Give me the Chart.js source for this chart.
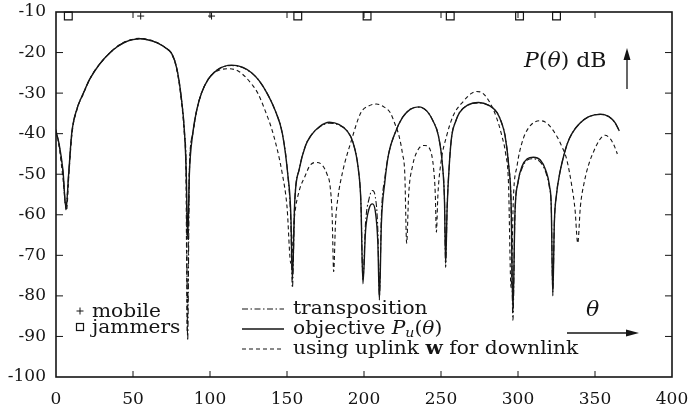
<!DOCTYPE html>
<html><head><meta charset="utf-8">
<script src="https://cdn.jsdelivr.net/npm/chart.js@4.4.1/dist/chart.umd.min.js"></script>
<style>html,body{margin:0;padding:0;background:#fff}#wrap{width:688px;height:413px}</style>
</head><body><div id="wrap"><canvas id="c" width="688" height="413"></canvas></div>
<script>
// ---- data (theta in degrees, power in dB) ----
const thetaObjective = [
  0, 2, 4.5, 6.5, 8.2, 10.2, 13.5, 17.8, 22, 28,
  35.2, 40, 45, 50, 55, 60, 65.7, 71, 75.5, 78.5,
  81, 83.5, 84.6, 85.5, 86.6, 88.8, 91.5, 94.5, 99, 105,
  114, 121, 127, 132, 137, 142, 147, 150.5, 152.5, 153.5,
  155, 158, 162, 165.5, 171, 177.5, 184, 189, 192.7, 196.3,
  198, 199.3, 201, 203.3, 205.5, 207.3, 209, 210, 211.3, 213.5,
  216, 220, 225, 230, 235.5, 241, 245, 248.3, 251, 252.3,
  253, 254, 255.5, 257, 259.5, 262, 267, 274.4, 281, 286.4,
  289.5, 291.6, 294, 295.5, 296.7, 298, 300, 302.7, 306, 310,
  314.5, 318, 320.5, 321.6, 322.6, 323.6, 325, 327, 329, 332,
  335, 340, 346, 353.8, 359, 363, 365.8];
const dbObjective = [
  -39.5, -42.5, -49, -58.5, -50, -40, -34, -30, -26.5, -23,
  -20, -18.5, -17.4, -16.8, -16.6, -16.9, -17.6, -18.8, -20.5, -24,
  -30, -40, -50, -66, -50, -40, -34, -30, -26.5, -24.2,
  -23.1, -23.6, -25, -27, -30, -34, -40, -50, -60, -76,
  -57, -48.7, -43, -40.5, -38.3, -37.2, -37.8, -39.3, -42, -48.7,
  -57, -77, -64, -58.5, -57.3, -59, -67, -81, -62, -52,
  -45, -40, -36, -34, -33.4, -34.5, -37, -40.5, -48, -57,
  -72, -58, -47, -40.5, -37, -34.8, -33, -32.3, -33, -34.8,
  -37.5, -40.5, -48, -57, -84, -60, -52, -48, -46.2, -45.8,
  -46.5, -49, -53, -58, -80, -62, -55, -50, -46.5, -42.5,
  -40, -37.5, -35.8, -35.2, -35.8, -37.3, -39.3];

const thetaTransposition = thetaObjective;
const dbTransposition = [
  -39.5, -42.8, -49.5, -58, -50, -40, -34, -30, -26.5, -23,
  -20, -18.5, -17.4, -16.8, -16.6, -16.9, -17.6, -18.8, -20.5, -24,
  -30, -40, -50, -91, -50, -40, -34, -30, -26.5, -24.2,
  -23.2, -23.7, -25, -27, -30, -34, -40, -50, -62, -78,
  -57, -48.7, -43, -40.5, -38.4, -37.4, -37.9, -39.3, -42, -48.7,
  -57, -76, -62, -56, -54, -55.5, -64, -80, -60, -51,
  -45, -40, -36, -34, -33.5, -34.5, -37, -40.5, -48, -57,
  -73, -58, -47, -40.5, -37, -34.8, -33, -32.4, -33, -34.8,
  -37.5, -40.5, -48, -57, -86, -60, -52, -48.5, -46.5, -46.2,
  -47, -49.5, -53.5, -58, -79, -62, -55, -50, -46.5, -42.5,
  -40, -37.5, -35.8, -35.2, -35.8, -37.3, -39.3];

const thetaUplink = [
  0, 2, 4.5, 6.8, 8.4, 10.4, 13.7, 18, 22, 28,
  35.2, 40, 45, 50, 54, 60, 65.5, 71, 75.3, 78.3,
  80.8, 83.3, 84.4, 85.2, 86.5, 88.8, 91.5, 94.5, 99, 105,
  112, 118, 123, 127.5, 131, 136, 141, 147, 150, 152.5,
  155, 158, 161.7, 165, 169.3, 173, 176, 178, 179.3, 180.3,
  181.5, 183, 186, 191.4, 198, 203, 208, 212.5, 217, 220,
  222.7, 225, 226.5, 227.7, 229, 231.5, 235, 239.5, 243, 245.3,
  246.3, 247, 248, 250, 253.7, 258, 264.6, 270, 273, 277,
  282, 286, 289.5, 292, 293.8, 295.5, 297, 299.4, 302.6, 307,
  314.2, 319, 325, 328.5, 331.6, 334.9, 337, 338.8, 340.5, 343,
  346, 349, 353, 356.5, 360, 362.5, 364.5];
const dbUplink = [
  -39, -43, -51, -59, -50, -40, -34, -30, -26.5, -23,
  -20, -18.4, -17.3, -16.7, -16.5, -16.8, -17.5, -18.8, -20.5, -24,
  -30, -40, -50, -89, -50, -40, -34, -30, -26.5, -24.5,
  -24, -24.5, -26, -28, -30, -34.5, -40, -50, -58, -72,
  -60, -54, -50.5, -47.8, -47.1, -47.8, -50, -53, -60, -74,
  -62, -56, -49.6, -42.2, -34.8, -33.2, -32.7, -33.3, -34.8, -37.5,
  -40.5, -45, -50, -67, -55, -48, -44, -42.9, -44, -49,
  -55, -64.3, -55, -47, -40.5, -35.5, -32, -30, -29.6, -30,
  -32.5, -36, -40.5, -45, -52, -78, -56, -47.9, -42.2, -38.5,
  -36.8, -37.5, -40.5, -43.2, -46.3, -52.8, -58.6, -67, -58, -52,
  -47.5, -44.5, -41.5, -40.4, -41.3, -43, -45];

const mobileTheta = [55, 101];
const jammerTheta = [8, 157, 202, 256, 301, 325];
const markerLevel = -11;

const xTickStep = 50, xMin = 0, xMax = 400;
const yTickStep = 10, yMin = -100, yMax = -10;

const legendLabels = ['transposition', 'objective', 'using uplink'];

// ---- build datasets ----
const pts = (xs, ys) => xs.map((x, i) => ({x, y: ys[i]}));
const lvl = xs => xs.map(x => ({x, y: markerLevel}));
const INK = '#151515';
const FONT = '"DejaVu Serif"';

function rich(ctx, x, y, parts, size, sx) {
  ctx.save();
  ctx.translate(x, y);
  ctx.scale(sx, 1);
  ctx.textBaseline = 'middle';
  ctx.textAlign = 'left';
  ctx.fillStyle = INK;
  let cx = 0;
  for (const p of parts) {
    const fs = p.sub ? size * 0.7 : size;
    ctx.font = (p.i ? 'italic ' : '') + (p.b ? 'bold ' : '') + fs + 'px ' + FONT;
    ctx.fillText(p.t, cx, p.sub ? size * 0.28 : 0);
    cx += ctx.measureText(p.t).width;
  }
  ctx.restore();
}

const decor = {
  id: 'decor',
  afterDraw(chart) {
    const {ctx, chartArea: a, scales: {x, y}} = chart;
    ctx.save();
    ctx.strokeStyle = INK;
    ctx.lineWidth = 1.6;
    ctx.strokeRect(a.left, a.top, a.right - a.left, a.bottom - a.top);
    ctx.lineWidth = 1;
    ctx.beginPath();
    y.ticks.forEach(t => {
      if (t.value <= yMin || t.value >= yMax) return;
      const py = y.getPixelForValue(t.value);
      ctx.moveTo(a.left, py); ctx.lineTo(a.left + 7, py);
      ctx.moveTo(a.right, py); ctx.lineTo(a.right - 7, py);
    });
    x.ticks.forEach(t => {
      if (t.value <= xMin || t.value >= xMax) return;
      const px = x.getPixelForValue(t.value);
      ctx.moveTo(px, a.bottom); ctx.lineTo(px, a.bottom - 6);
      ctx.moveTo(px, a.top); ctx.lineTo(px, a.top + 6);
    });
    ctx.stroke();

    // left legend (markers)
    ctx.lineWidth = 1;
    ctx.beginPath();
    ctx.moveTo(76.5, 311); ctx.lineTo(83.5, 311);
    ctx.moveTo(80, 307.5); ctx.lineTo(80, 314.5);
    ctx.stroke();
    ctx.lineWidth = 1.2;
    ctx.strokeRect(76.5, 323.5, 7, 7);
    rich(ctx, 92, 312, [{t: 'mobile'}], 18, 1.12);
    rich(ctx, 92, 328, [{t: 'jammers'}], 18, 1.12);

    // line legend
    const rows = [309, 329, 349];
    const dashes = [[6, 2.5, 1.5, 2.5], [], [4, 3]];
    rows.forEach((ry, i) => {
      ctx.setLineDash(dashes[i]);
      ctx.lineWidth = i === 1 ? 1.4 : 1.1;
      ctx.beginPath(); ctx.moveTo(242, ry); ctx.lineTo(284, ry); ctx.stroke();
    });
    ctx.setLineDash([]);
    rich(ctx, 293, rows[0], [{t: legendLabels[0]}], 18, 1.12);
    rich(ctx, 293, rows[1], [{t: legendLabels[1] + ' '}, {t: 'P', i: true}, {t: 'u', i: true, sub: true}, {t: '('}, {t: 'θ', i: true}, {t: ')'}], 18, 1.12);
    rich(ctx, 293, rows[2], [{t: legendLabels[2] + ' '}, {t: 'w', b: true}, {t: ' for downlink'}], 18, 1.12);

    // axis annotations
    rich(ctx, 524, 62, [{t: 'P', i: true}, {t: '('}, {t: 'θ', i: true}, {t: ') dB'}], 20, 1.1);
    rich(ctx, 586, 311, [{t: 'θ', i: true}], 20, 1.1);
    ctx.fillStyle = INK;
    ctx.lineWidth = 1.3;
    ctx.beginPath(); ctx.moveTo(627, 89); ctx.lineTo(627, 58); ctx.stroke();
    ctx.beginPath(); ctx.moveTo(627, 48); ctx.lineTo(623.5, 60); ctx.lineTo(630.5, 60); ctx.closePath(); ctx.fill();
    ctx.beginPath(); ctx.moveTo(567, 333); ctx.lineTo(628, 333); ctx.stroke();
    ctx.beginPath(); ctx.moveTo(639, 333); ctx.lineTo(626, 329.5); ctx.lineTo(626, 336.5); ctx.closePath(); ctx.fill();
    ctx.restore();
  }
};

const lineBase = {pointRadius: 0, fill: false, cubicInterpolationMode: 'monotone', borderColor: INK};
const noPad = s => { s.paddingTop = 0; s.paddingBottom = 0; s.paddingLeft = 0; s.paddingRight = 0; };

new Chart(document.getElementById('c'), {
  type: 'line',
  data: {
    datasets: [
      Object.assign({label: 'transposition', data: pts(thetaTransposition, dbTransposition), borderWidth: 1.1, borderDash: [6, 2.5, 1.5, 2.5], order: 3}, lineBase),
      Object.assign({label: 'using uplink w for downlink', data: pts(thetaUplink, dbUplink), borderWidth: 1.1, borderDash: [4, 3], order: 2}, lineBase),
      Object.assign({label: 'objective', data: pts(thetaObjective, dbObjective), borderWidth: 1.4, order: 1}, lineBase),
      {label: 'mobile', data: lvl(mobileTheta), showLine: false, pointStyle: 'cross', pointRadius: 3.5, borderWidth: 1, borderColor: INK, clip: false, order: 0},
      {label: 'jammers', data: lvl(jammerTheta), showLine: false, pointStyle: 'rect', pointRadius: 5.5, borderWidth: 1.2, borderColor: INK, backgroundColor: 'rgba(0,0,0,0)', clip: false, order: 0}
    ]
  },
  options: {
    responsive: false,
    animation: false,
    devicePixelRatio: 1,
    layout: {padding: {top: 12, right: 16, left: 0, bottom: 0}},
    plugins: {legend: {display: false}, tooltip: {enabled: false}},
    scales: {
      x: {
        type: 'linear', min: xMin, max: xMax,
        ticks: {stepSize: xTickStep, color: INK, font: {family: 'DejaVu Serif', size: 17}, padding: 12, maxRotation: 0, autoSkip: false},
        grid: {display: false, drawTicks: false}, border: {display: false},
        afterFit: s => { s.height = 36; noPad(s); }
      },
      y: {
        min: yMin, max: yMax,
        ticks: {stepSize: yTickStep, color: INK, font: {family: 'DejaVu Serif', size: 17}, padding: 10},
        grid: {display: false, drawTicks: false}, border: {display: false},
        afterFit: s => { s.width = 56; noPad(s); }
      }
    }
  },
  plugins: [decor]
});
</script>
</body></html>
